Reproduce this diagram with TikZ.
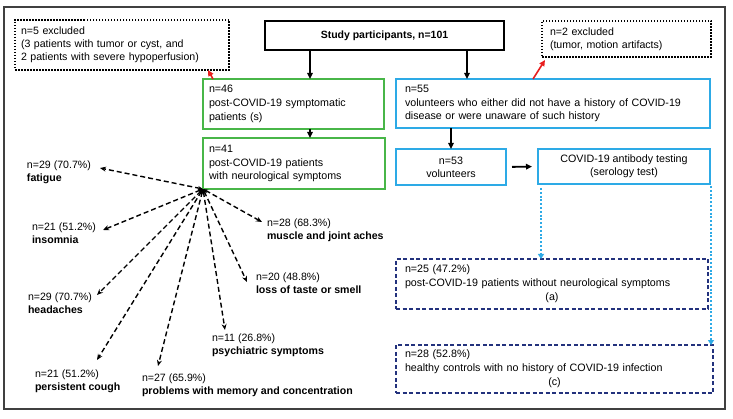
\documentclass[tikz,border=0pt]{standalone}
\usepackage{fontspec}
\setmainfont{Liberation Sans}
\usetikzlibrary{arrows.meta}
\definecolor{boxgreen}{RGB}{72,182,72}
\definecolor{boxblue}{RGB}{45,170,230}
\definecolor{darkblue}{RGB}{35,50,125}
\definecolor{exred}{RGB}{232,30,30}
\tikzset{
    basebox/.style = {
        rectangle,
        anchor=north west,
        inner sep=0pt,
        outer sep=0pt,
        font=\fontsize{10.7}{13.8}\selectfont
    },
    studybox/.style = {
        basebox,
        draw=black,
        line width=2pt,
        align=center,
        font=\fontsize{10.5}{13.5}\selectfont\bfseries
    },
    excludedbox/.style = {
        basebox,
        draw=black,
        line width=1.5pt,
        dash pattern=on 1.5pt off 1.5pt,
        align=left,
        font=\fontsize{10.6}{13}\selectfont
    },
    greenbox/.style = {
        basebox,
        draw=boxgreen,
        line width=1.6pt,
        align=left
    },
    bluebox/.style = {
        basebox,
        draw=boxblue,
        line width=1.6pt,
        align=left
    },
    groupbox/.style = {
        basebox,
        draw=darkblue,
        line width=1.5pt,
        dash pattern=on 4pt off 2.5pt,
        align=left
    },
    symlabel/.style = {
        basebox,
        align=left,
        font=\fontsize{10.6}{13}\selectfont
    },
    flowarrow/.style = {
        -{Triangle[length=6pt,width=5.5pt]},
        line width=1.8pt
    },
    redarrow/.style = {
        -{Triangle[length=6pt,width=5.5pt]},
        line width=1.6pt,
        draw=exred
    },
    symarrow/.style = {
        {Stealth[length=5pt,width=4pt]}-{Stealth[length=6pt,width=5pt]},
        line width=1.4pt,
        dash pattern=on 5pt off 3pt
    },
    testarrow/.style = {
        -{Triangle[length=5pt,width=6pt]},
        line width=2pt,
        draw=boxblue,
        dash pattern=on 2pt off 1.8pt
    }
}
\begin{document}
\begin{tikzpicture}[x=1pt,y=-1pt]
    \useasboundingbox (0,0) rectangle (733,419);
    \draw[line width=2pt, black!75] (4,7) rectangle (725,409);

    % boxes of the flow
    \node[studybox, minimum width=239pt, minimum height=29pt] (study) at (265,21) {Study participants, n=101};
    \node[excludedbox, minimum width=214pt, minimum height=50pt, text width=202pt] (exleft) at (15,20)
        {n=5 excluded\\(3 patients with tumor or cyst, and\\2 patients with severe hypoperfusion)};
    \node[excludedbox, minimum width=169pt, minimum height=36pt, text width=153pt] (exright) at (542,21)
        {n=2 excluded\\(tumor, motion artifacts)};
    \node[greenbox, minimum width=181pt, minimum height=50pt, text width=169pt] (symp) at (203,79)
        {n=46\\post-COVID-19 symptomatic\\patients (s)};
    \node[greenbox, minimum width=182pt, minimum height=51pt, text width=170pt] (neuro) at (203,138)
        {n=41\\post-COVID-19 patients\\with neurological symptoms};
    \node[bluebox, minimum width=314pt, minimum height=49pt, text width=296pt] (volunt) at (396,79)
        {n=55\\volunteers who either did not have a history of COVID-19\\disease or were unaware of such history};
    \node[bluebox, align=center, minimum width=110pt, minimum height=36pt, font=\fontsize{10.7}{13}\selectfont] (vol53) at (396,149)
        {n=53\\volunteers};
    \node[bluebox, align=center, minimum width=172pt, minimum height=35pt, font=\fontsize{10.7}{13}\selectfont] (serology) at (538,149)
        {COVID-19 antibody testing\\(serology test)};
    \node[groupbox, minimum width=312pt, minimum height=50pt, text width=294pt] (groupa) at (396,259)
        {n=25 (47.2\%)\\post-COVID-19 patients without neurological symptoms\\\makebox[\linewidth]{(a)}};
    \node[groupbox, minimum width=317pt, minimum height=48pt, text width=299pt] (groupc) at (396,345)
        {n=28 (52.8\%)\\healthy controls with no history of COVID-19 infection\\\makebox[\linewidth]{(c)}};

    % symptoms
    \node[symlabel] (fatigue) at (27,161) {n=29 (70.7\%)\\\textbf{fatigue}};
    \node[symlabel] (insomnia) at (32,223) {n=21 (51.2\%)\\\textbf{insomnia}};
    \node[symlabel] (muscle) at (267,219) {n=28 (68.3\%)\\\textbf{muscle and joint aches}};
    \node[symlabel] (taste) at (256,273) {n=20 (48.8\%)\\\textbf{loss of taste or smell}};
    \node[symlabel] (psych) at (212,334) {n=11 (26.8\%)\\\textbf{psychiatric symptoms}};
    \node[symlabel] (memory) at (142,374) {n=27 (65.9\%)\\\textbf{problems with memory and concentration}};
    \node[symlabel] (cough) at (35,370) {n=21 (51.2\%)\\\textbf{persistent cough}};
    \node[symlabel] (headache) at (28,293) {n=29 (70.7\%)\\\textbf{headaches}};

    \coordinate (tipfatigue) at (100,168);
    \coordinate (tipinsomnia) at (103,230);
    \coordinate (tipmuscle) at (262,222);
    \coordinate (tiptaste) at (247,282);
    \coordinate (tippsych) at (225,330);
    \coordinate (tipmemory) at (158,366);
    \coordinate (tipcough) at (97,360);
    \coordinate (tipheadache) at (97,295);

    % connectors
    \draw[flowarrow] ([xshift=45pt]study.south west) -- ([xshift=45pt]study.south west |- symp.north);
    \draw[flowarrow] ([xshift=202pt]study.south west) -- ([xshift=202pt]study.south west |- volunt.north);
    \draw[flowarrow] ([xshift=107pt]symp.south west) -- ([xshift=107pt]symp.south west |- neuro.north);
    \draw[flowarrow] (volunt.south -| vol53.north) -- (vol53.north);
    \draw[flowarrow, shorten <=6pt, shorten >=6pt] (vol53.east) -- (serology.west);
    \draw[redarrow] ([xshift=10pt]symp.north west) -- ([xshift=-21pt]exleft.south east);
    \draw[redarrow] ([xshift=137pt]volunt.north west) -- ([shift={(3pt,-3pt)}]exright.south west);
    \draw[testarrow] ([xshift=3pt,yshift=-4pt]serology.south west) -- ([xshift=3pt]serology.south west |- groupa.north);
    \draw[testarrow] ([xshift=1pt,yshift=-2pt]serology.south east) -- ([xshift=1pt]serology.south east |- groupc.north);

    \foreach \s in {fatigue,insomnia,muscle,taste,psych,memory,cough,headache}
        \draw[symarrow] (neuro.south west) -- (tip\s);
\end{tikzpicture}
\end{document}
